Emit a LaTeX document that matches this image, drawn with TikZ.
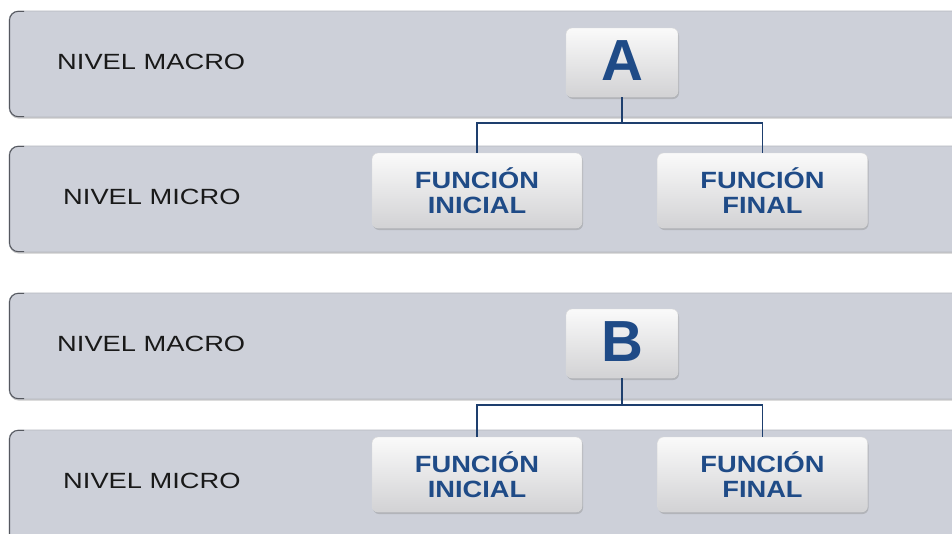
\documentclass[tikz,border=0pt]{standalone}
\usepackage{fontspec}
\setmainfont{Liberation Sans}
\usetikzlibrary{shadows}
\definecolor{bandfill}{HTML}{CDD0D9}
\definecolor{bandedge}{HTML}{B4B7BF}
\definecolor{bandleft}{HTML}{55585F}
\definecolor{navy}{HTML}{1F4B87}
\definecolor{linkblue}{HTML}{1E3F6E}
\definecolor{boxtop}{HTML}{FAFAFA}
\definecolor{boxbottom}{HTML}{D2D2D4}
\tikzset{
  band/.style={fill=bandfill, draw=bandedge, line width=0.6pt,
    drop shadow={shadow xshift=0.5pt, shadow yshift=-1.5pt, opacity=0.35, fill=black!60}},
  bandrim/.style={draw=bandleft, line width=1pt, rounded corners=9pt},
  bandlabel/.style={anchor=west, font=\fontsize{22}{24}\selectfont, text=black!90,
    inner sep=0pt, xscale=1.24},
  letterbox/.style={rounded corners=6pt, top color=boxtop, bottom color=boxbottom,
    draw=white!85!black, line width=0.4pt, minimum width=112pt, minimum height=69pt,
    drop shadow={shadow xshift=1pt, shadow yshift=-2pt, opacity=0.35},
    font=\bfseries\fontsize{58}{60}\selectfont, text=navy, inner sep=0pt},
  funcbox/.style={rounded corners=6pt, top color=boxtop, bottom color=boxbottom,
    draw=white!85!black, line width=0.4pt, minimum width=210pt, minimum height=75pt,
    drop shadow={shadow xshift=1pt, shadow yshift=-2pt, opacity=0.35},
    inner sep=0pt},
  functext/.style={font=\bfseries\fontsize{23.5}{25}\selectfont, text=navy,
    align=center, inner sep=0pt, xscale=1.16},
  link/.style={draw=linkblue, line width=1.4pt}
}
\begin{document}
\begin{tikzpicture}[x=1pt, y=-1pt]
  \useasboundingbox (0,0) rectangle (952,533);
  \fill[white] (0,0) rectangle (952,533);

  % the four level bands (they run off the right and bottom edges)
  \foreach \t/\b in {11/117, 146/252, 293/399, 430/560}{
    \path[band, rounded corners=9pt] (9,\t) rectangle (975,\b);
    \draw[bandrim] (24,\t+0.3) -- (9.5,\t+0.3) -- (9.5,\b-0.3) -- (24,\b-0.3);
  }

  % level labels
  \node[bandlabel] (macroA) at (57,62) {NIVEL MACRO};
  \node[bandlabel] (microA) at (63,197) {NIVEL MICRO};
  \node[bandlabel] (macroB) at (57,344) {NIVEL MACRO};
  \node[bandlabel] (microB) at (63,481) {NIVEL MICRO};

  % scheme A
  \node[letterbox] (A) at (622,62.5) {\raisebox{4pt}{A}};
  \node[funcbox] (iniA) at (477,190.5) {};
  \node[funcbox] (finA) at (762.5,190.5) {};
  \node[functext] (tiniA) at (iniA.center) {FUNCIÓN\\INICIAL};
  \node[functext] (tfinA) at (finA.center) {FUNCIÓN\\FINAL};
  \coordinate (jA) at (A.south |- 0,123);
  \draw[link] (A.south) -- (jA);
  \draw[link] (iniA.north) |- (jA) -| (finA.north);

  % scheme B
  \node[letterbox] (B) at (622,343.5) {\raisebox{4pt}{B}};
  \node[funcbox] (iniB) at (477,474.5) {};
  \node[funcbox] (finB) at (762.5,474.5) {};
  \node[functext] (tiniB) at (iniB.center) {FUNCIÓN\\INICIAL};
  \node[functext] (tfinB) at (finB.center) {FUNCIÓN\\FINAL};
  \coordinate (jB) at (B.south |- 0,405);
  \draw[link] (B.south) -- (jB);
  \draw[link] (iniB.north) |- (jB) -| (finB.north);
\end{tikzpicture}
\end{document}
